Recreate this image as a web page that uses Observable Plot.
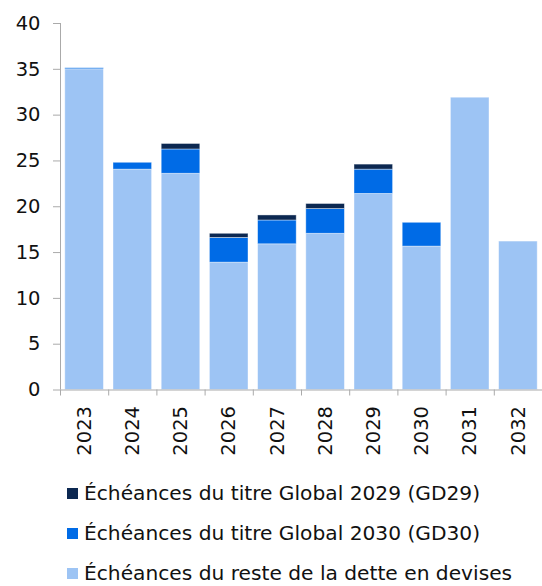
<!DOCTYPE html>
<html>
<head>
<meta charset="utf-8">
<script src="https://cdn.jsdelivr.net/npm/d3@7"></script>
<script src="https://cdn.jsdelivr.net/npm/@observablehq/plot@0.6"></script>
<style>
  body { margin: 0; background: #fff; font-family: "DejaVu Sans", sans-serif; }
  #chart svg { display: block; }
  #legend { padding-left: 67px; margin-top: 3px; }
  .row { display: flex; align-items: center; height: 40px; font-size: 20.2px; color: #111; white-space: nowrap; }
  .sw { width: 11px; height: 11px; margin-right: 6px; flex: none; }
</style>
</head>
<body>
<div id="chart"></div>
<div id="legend"></div>
<script>
const years = [2023, 2024, 2025, 2026, 2027, 2028, 2029, 2030, 2031, 2032];
const seriesNames = [
  "Échéances du titre Global 2029 (GD29)",
  "Échéances du titre Global 2030 (GD30)",
  "Échéances du reste de la dette en devises"
];
const seriesColors = ["#0c2851", "#006be6", "#9dc4f4"];
const gd29 = [0, 0, 0.6, 0.45, 0.55, 0.55, 0.55, 0, 0, 0];
const gd30 = [0.12, 0.75, 2.65, 2.7, 2.6, 2.7, 2.65, 2.6, 0, 0];
const rest = [35.0, 24.05, 23.6, 13.9, 15.9, 17.05, 21.4, 15.65, 31.9, 16.2];
const yTicks = [0, 5, 10, 15, 20, 25, 30, 35, 40];

const data = [];
years.forEach((yr, i) => {
  data.push({year: yr, series: seriesNames[2], value: rest[i]});
  data.push({year: yr, series: seriesNames[1], value: gd30[i]});
  data.push({year: yr, series: seriesNames[0], value: gd29[i]});
});

const chart = Plot.plot({
  width: 542,
  height: 470,
  marginLeft: 60,
  marginRight: 0,
  marginTop: 23,
  marginBottom: 80.5,
  style: {fontFamily: "DejaVu Sans, sans-serif", fontSize: "19px", color: "#111", background: "white"},
  x: {domain: [years[0], years[years.length - 1] + 1], axis: null},
  y: {domain: [0, 40], axis: null},
  color: {domain: seriesNames, range: seriesColors},
  marks: [
    Plot.rectY(data, Plot.stackY({
      x1: "year", x2: d => d.year + 1, y: "value", fill: "series",
      insetLeft: 4.8, insetRight: 4.8,
      stroke: "white", strokeOpacity: 0.5, strokeWidth: 0.8
    })),
    Plot.axisY({ticks: yTicks, tickSize: 7, tickPadding: 13, stroke: "#aaa", fontSize: 19.5, label: null}),
    Plot.ruleX([years[0]], {y1: 0, y2: 40, stroke: "#aaa"}),
    Plot.ruleY([0], {stroke: "#aaa"}),
    Plot.axisX([...years, years[years.length - 1] + 1], {tickSize: 6, tickFormat: () => "", stroke: "#aaa", label: null}),
    Plot.axisX(years.map(d => d + 0.5), {tickSize: 0, tickRotate: -90, tickPadding: 16, fontSize: 19.5, label: null, tickFormat: d => String(d - 0.5)})
  ]
});
document.getElementById("chart").append(chart);

const legend = d3.select("#legend");
seriesNames.forEach((name, i) => {
  const row = legend.append("div").attr("class", "row");
  row.append("span").attr("class", "sw").style("background", seriesColors[i]);
  row.append("span").text(name);
});
</script>
</body>
</html>
